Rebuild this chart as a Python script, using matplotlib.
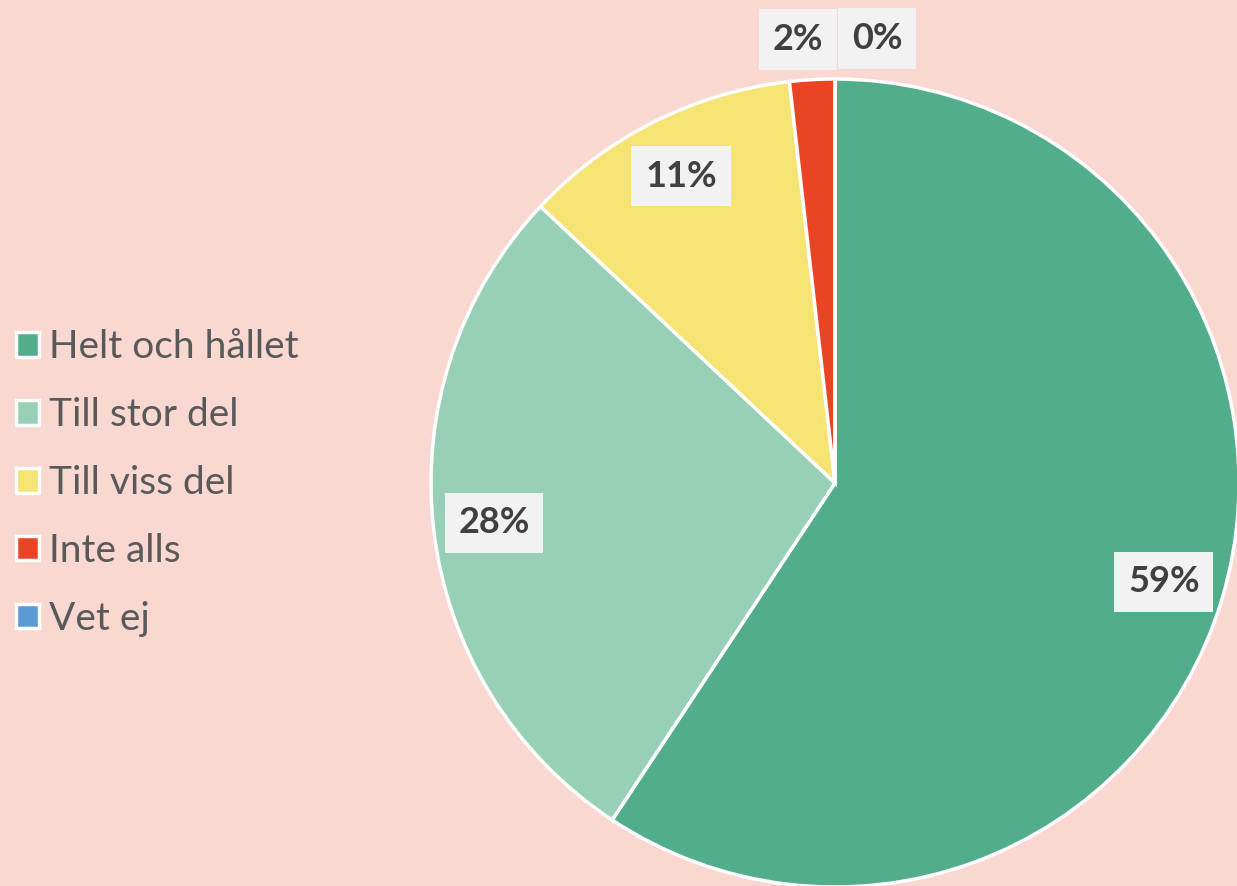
import numpy as np
import matplotlib.pyplot as plt
from matplotlib.patches import Patch

categories = ['Helt och hållet', 'Till stor del', 'Till viss del', 'Inte alls', 'Vet ej']
values = [59.3, 27.7, 11.2, 1.8, 0.0]
colors = ['#52AE8A', '#97CFB7', '#F5E474', '#E94524', '#5B9BD5']
bg = '#F9D8D1'

plt.rcParams['font.family'] = ['Lato', 'DejaVu Sans']

fig = plt.figure(figsize=(12.37, 8.86), dpi=100, facecolor=bg)
ax = fig.add_axes([0, 0, 1, 1])
ax.set_facecolor(bg)
ax.axis('off')

cx, cy, r = 835, 403, 404
wedges, texts, autotexts = ax.pie(
    values, colors=colors, startangle=90, counterclock=False,
    center=(cx, cy), radius=r, autopct=lambda p: '%.0f%%' % p,
    pctdistance=0.85, wedgeprops=dict(edgecolor='white', linewidth=2.5),
    textprops=dict(fontsize=26, fontweight='bold', color='#404040'))
ax.set_xlim(0, 1237)
ax.set_ylim(0, 886)
ax.set_aspect('equal')

# small slices: label outside the pie, pushed apart so they don't overlap
total = sum(values)
start = 90.0
for v, t in zip(values, autotexts):
    ang = np.deg2rad(start - v / total * 180)
    if v / total < 0.05:
        x = cx + 1.1 * r * np.cos(ang)
        y = cy + 1.1 * r * np.sin(ang)
        x += 42 if v == 0 else -12
        t.set_position((x, y))
    start -= v / total * 360
    t.set_bbox(dict(facecolor='#F2F2F2', edgecolor='none', pad=10))
    t.set_ha('center')
    t.set_va('center')

handles = [Patch(facecolor=c, edgecolor='white', linewidth=2.5) for c in colors]
fig.legend(handles, categories, loc='center left', bbox_to_anchor=(0.0, 0.455),
           frameon=False, fontsize=28, labelcolor='#595959',
           handlelength=0.6, handleheight=0.6, handletextpad=0.25,
           labelspacing=0.82, borderaxespad=0.0)

fig.savefig('out.png', dpi=100, facecolor=bg)
